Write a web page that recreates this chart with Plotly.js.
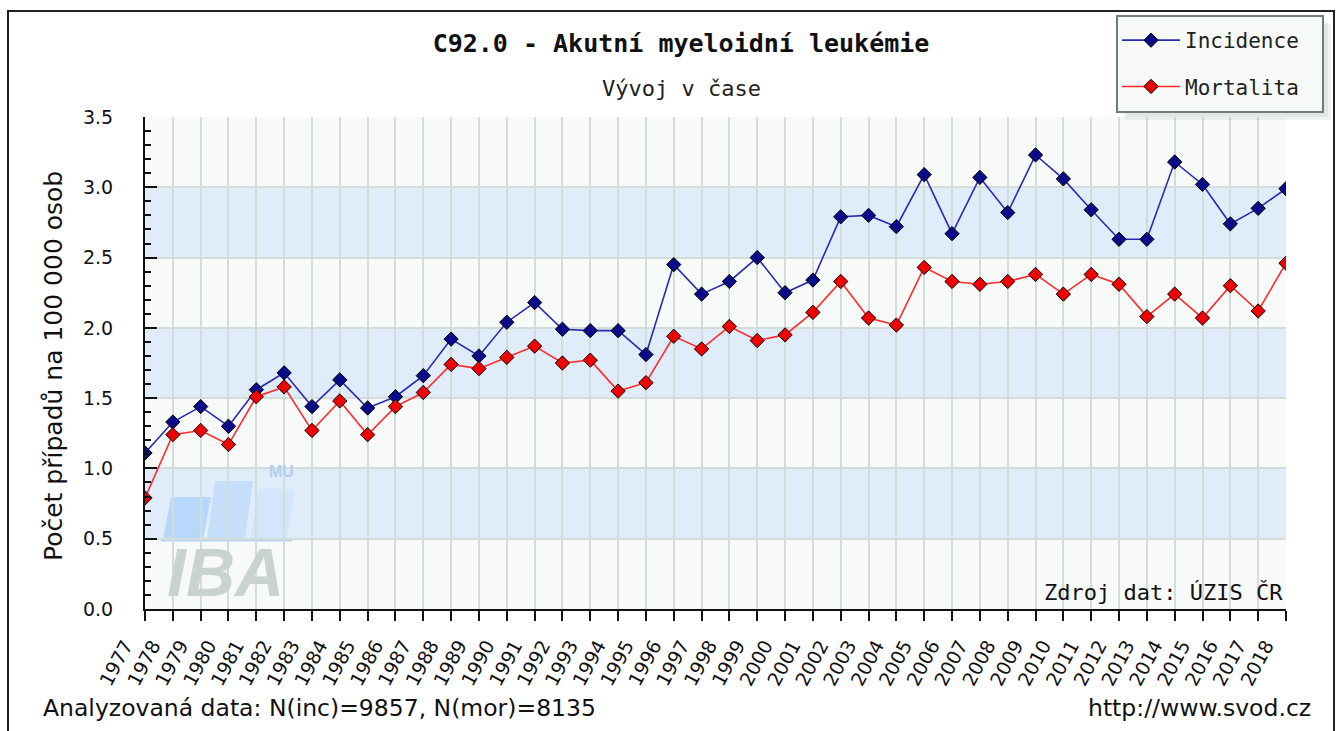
<!DOCTYPE html>
<html>
<head>
<meta charset="utf-8">
<script src="https://cdn.plot.ly/plotly-3.0.1.min.js"></script>
<style>html,body{margin:0;padding:0;background:#fff;}#chart{width:1337px;height:731px;}</style>
</head>
<body>
<div id="chart"></div>
<script>
const years = [1977,1978,1979,1980,1981,1982,1983,1984,1985,1986,1987,1988,1989,1990,1991,1992,1993,1994,1995,1996,1997,1998,1999,2000,2001,2002,2003,2004,2005,2006,2007,2008,2009,2010,2011,2012,2013,2014,2015,2016,2017,2018];
const incidence = [1.11,1.33,1.44,1.30,1.56,1.68,1.44,1.63,1.43,1.51,1.66,1.92,1.80,2.04,2.18,1.99,1.98,1.98,1.81,2.45,2.24,2.33,2.50,2.25,2.34,2.79,2.80,2.72,3.09,2.67,3.07,2.82,3.23,3.06,2.84,2.63,2.63,3.18,3.02,2.74,2.85,2.99];
const mortalita = [0.79,1.24,1.27,1.17,1.51,1.58,1.27,1.48,1.24,1.44,1.54,1.74,1.71,1.79,1.87,1.75,1.77,1.55,1.61,1.94,1.85,2.01,1.91,1.95,2.11,2.33,2.07,2.02,2.43,2.33,2.31,2.33,2.38,2.24,2.38,2.31,2.08,2.24,2.07,2.30,2.12,2.46];
const yTicks = [0,0.5,1,1.5,2,2.5,3,3.5];
const yTickLabels = ['0.0','0.5','1.0','1.5','2.0','2.5','3.0','3.5'];

const W=1337,H=731,L=145,R=51,T=117,B=122;
const PW=W-L-R, PH=H-T-B;
const px=x=>(x-L)/PW, py=y=>(H-B-y)/PH;

const sans='DejaVu Sans', mono='DejaVu Sans Mono';

const traces=[
 {x:years,y:incidence,name:'Incidence',type:'scatter',mode:'lines+markers',legendgroup:'a',
  line:{color:'#2a2ab0',width:1.6},marker:{symbol:'diamond',size:11,color:'#0b0b8a',line:{color:'#000',width:1}}},
 {x:years,y:mortalita,name:'Mortalita',type:'scatter',mode:'lines+markers',legendgroup:'b',
  line:{color:'#ff2a2a',width:1.6},marker:{symbol:'diamond',size:11,color:'#f00000',line:{color:'#000',width:1}}}
];

const shapes=[];
for(let i=0;i<yTicks.length-1;i++){
  shapes.push({type:'rect',xref:'paper',yref:'y',x0:0,x1:1,y0:yTicks[i],y1:yTicks[i+1],
    fillcolor:(i%2===1)?'#e1ecfb':'#f8faf9',line:{width:0},layer:'below'});
}
const bar=(xa,xb,ytop,col)=>shapes.push({type:'path',xref:'paper',yref:'paper',layer:'below',
  path:`M ${px(xa)} ${py(540)} L ${px(xa+8)} ${py(ytop)} L ${px(xb+8)} ${py(ytop)} L ${px(xb)} ${py(540)} Z`,fillcolor:col,line:{width:0}});
bar(163,203,497,'#b7d8fb');
bar(207,245,481,'#c5dffb');
bar(250,287,489,'#d3e6fb');
shapes.push({type:'line',xref:'paper',yref:'paper',layer:'below',x0:px(161),x1:px(292),y0:py(540),y1:py(540),line:{color:'#b7d2f5',width:3}});
// legend shadow and box
shapes.push({type:'rect',xref:'paper',yref:'paper',x0:px(1124),x1:px(1331),y0:py(120),y1:py(24),fillcolor:'rgba(120,130,130,0.10)',line:{width:0},layer:'above'});
shapes.push({type:'rect',xref:'paper',yref:'paper',x0:px(1127),x1:px(1328),y0:py(117),y1:py(22),fillcolor:'rgba(120,130,130,0.10)',line:{width:0},layer:'above'});
shapes.push({type:'rect',xref:'paper',yref:'paper',x0:px(1117),x1:px(1323),y0:py(112),y1:py(16),fillcolor:'#f8faf9',line:{color:'#6e7d7a',width:2},layer:'above'});
// outer frame
shapes.push({type:'rect',xref:'paper',yref:'paper',x0:px(8),x1:px(1334),y0:py(760),y1:py(11),line:{color:'#222',width:2},fillcolor:'rgba(0,0,0,0)',layer:'below'});

const annotations=[
 {text:'Vývoj v čase',xref:'paper',yref:'paper',x:px(681),y:py(88),xanchor:'center',yanchor:'middle',showarrow:false,font:{family:mono,size:22,color:'#222'}},
 {text:'Počet případů na 100 000 osob',xref:'paper',yref:'paper',x:px(53),y:py(366),xanchor:'center',yanchor:'middle',textangle:-90,showarrow:false,font:{family:sans,size:25,color:'#111'}},
 {text:'Analyzovaná data: N(inc)=9857, N(mor)=8135',xref:'paper',yref:'paper',x:px(41),y:py(708),xanchor:'left',yanchor:'middle',showarrow:false,font:{family:sans,size:23.5,color:'#111'}},
 {text:'http://www.svod.cz',xref:'paper',yref:'paper',x:px(1313),y:py(708),xanchor:'right',yanchor:'middle',showarrow:false,font:{family:sans,size:23.5,color:'#111'}},
 {text:'Zdroj dat: ÚZIS ČR',xref:'paper',yref:'paper',x:px(1285),y:py(592),xanchor:'right',yanchor:'middle',showarrow:false,font:{family:mono,size:22,color:'#111'}},
 {text:'IBA',xref:'paper',yref:'paper',x:px(225),y:py(572),xanchor:'center',yanchor:'middle',showarrow:false,font:{family:'Liberation Sans',size:68,color:'#c9d2cf',weight:'bold',style:'italic'}},
 {text:'MU',xref:'paper',yref:'paper',x:px(281),y:py(471),xanchor:'center',yanchor:'middle',showarrow:false,font:{family:'Liberation Sans',size:16,color:'#b4cdef',weight:'bold'}}
];

const layout={
 width:W,height:H,margin:{l:L,r:R,t:T,b:B,pad:0},
 paper_bgcolor:'#ffffff',plot_bgcolor:'rgba(0,0,0,0)',
 title:{text:'<b>C92.0 - Akutní myeloidní leukémie</b>',xref:'container',yref:'container',x:681/W,y:1-43/H,xanchor:'center',yanchor:'middle',font:{family:mono,size:25,color:'#111'}},
 showlegend:true,
 legend:{x:px(1117),y:py(20),xanchor:'left',yanchor:'top',bgcolor:'rgba(0,0,0,0)',borderwidth:0,
   font:{family:mono,size:21,color:'#222'},tracegroupgap:16,itemwidth:58,traceorder:'grouped'},
 xaxis:{type:'linear',range:[1977,2018],tickvals:years,ticktext:years.map(String),tickangle:-62,
   ticks:'outside',ticklen:10,tickwidth:2,tickcolor:'#111',showline:true,linecolor:'#111',linewidth:2,
   showgrid:true,gridcolor:'#d2ddda',gridwidth:2,zeroline:false,ticklabelshift:-20,ticklabelstandoff:6,
   tickfont:{family:sans,size:19,color:'#111'}},
 yaxis:{range:[0,3.5],tickvals:yTicks,ticktext:yTickLabels,ticks:'inside',ticklen:12,tickwidth:2,tickcolor:'#111',
   showline:true,linecolor:'#111',linewidth:2,showgrid:true,gridcolor:'#d2ddda',gridwidth:2,zeroline:false,
   ticklabelstandoff:26,tickfont:{family:sans,size:19,color:'#111'},
   minor:{dtick:0.1,ticks:'inside',ticklen:6,tickwidth:2,tickcolor:'#111',showgrid:false}},
 shapes:shapes,annotations:annotations
};

Plotly.newPlot('chart',traces,layout,{displayModeBar:false,staticPlot:true});
</script>
</body>
</html>
